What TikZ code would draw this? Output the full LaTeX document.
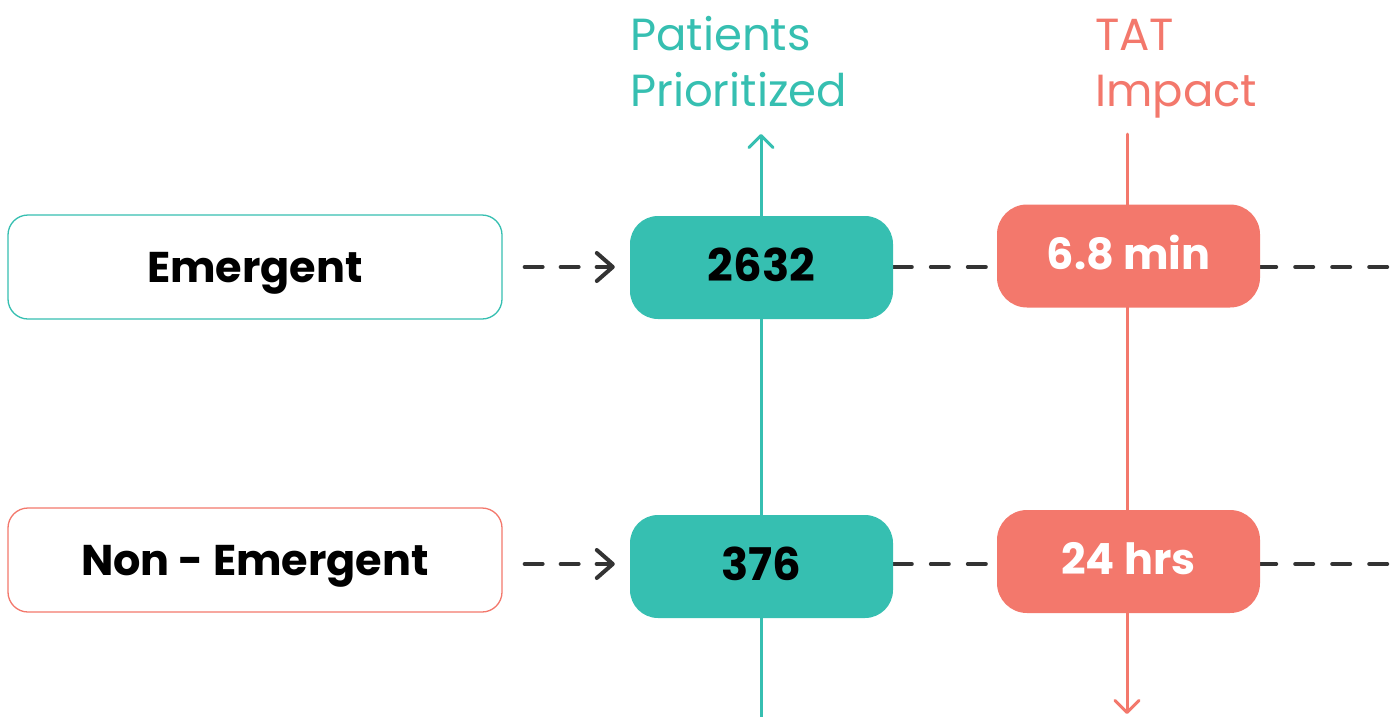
\documentclass[tikz,border=0pt]{standalone}
\usepackage{fontspec}
\setmainfont{Poppins}
\usetikzlibrary{arrows.meta,backgrounds,calc}
\definecolor{tealc}{HTML}{36BFB1}
\definecolor{salmonc}{HTML}{F3786C}
\definecolor{darkc}{HTML}{333333}
\tikzset{
  catbox/.style={draw, line width=1.3pt, rounded corners=20pt, minimum width=494pt, minimum height=104pt,
    inner sep=0pt, fill=white, text=black, font=\fontsize{43}{43}\selectfont\bfseries, text height=30pt, text depth=0pt},
  numbox/.style={fill=tealc, rounded corners=28pt, minimum width=263pt, minimum height=103pt,
    inner sep=0pt, text=black, font=\fontsize{45}{45}\selectfont\bfseries, text height=32pt, text depth=5pt},
  tatbox/.style={fill=salmonc, rounded corners=30pt, minimum width=263pt, minimum height=103pt,
    inner sep=0pt, text=white, font=\fontsize{43}{43}\selectfont\bfseries, text height=31pt, text depth=5pt},
  header/.style={anchor=base west, inner sep=0pt, align=left, font=\fontsize{45}{56}\selectfont},
  dasharrow/.style={draw=darkc, line width=4pt, line cap=round, dash pattern=on 18pt off 18pt,
    -{Straight Barb[length=16pt,width=28pt,line cap=round,line join=round]}},
  dashline/.style={draw=darkc, line width=4pt, line cap=round, dash pattern=on 18pt off 19pt},
  axisline/.style={line width=3pt, line cap=round,
    -{Straight Barb[length=12pt,width=24pt,line cap=round,line join=round]}},
}
\begin{document}
\begin{tikzpicture}[x=1pt,y=-1pt]
\useasboundingbox (0,0) rectangle (1398,716);
% headers (anchor at the baseline of the last line)
\node[header, text=tealc] (hp) at (630,106) {Patients\\Prioritized};
\node[header, text=salmonc] (ht) at (1095,106) {TAT\\Impact};
% boxes
\node[catbox, draw=tealc] (e1) at (255,267) {Emergent};
\node[catbox, draw=salmonc] (e2) at (255,560) {Non - Emergent};
\node[numbox] (a1) at (761.5,267.5) {2632};
\node[numbox] (a2) at (761.5,566.5) {376};
\node[tatbox] (b1) at (1128.5,256) {6.8 min};
\node[tatbox] (b2) at (1128.5,561.5) {24 hrs};
% coordinates for axis ends and free ends
\coordinate (ptop) at (761,134);
\coordinate (pbot) at (761,720);
\coordinate (ttop) at (1127,134);
\coordinate (tbot) at (1127,714);
\coordinate (r1) at (1398,267);
\coordinate (r2) at (1398,564);
\begin{scope}[on background layer]
  \draw[axisline, tealc] (pbot) -- (ptop);
  \draw[axisline, salmonc] (ttop) -- (tbot);
  % row 1
  \draw[dashline, dash phase=26pt] (b1.west |- r1) -- (a1.east |- r1);
  \draw[dashline, dash phase=2pt] (b1.east |- r1) -- (r1);
  % row 2
  \draw[dashline, dash phase=26pt] (b2.west |- r2) -- (a2.east |- r2);
  \draw[dashline, dash phase=2pt] (b2.east |- r2) -- (r2);
\end{scope}
\draw[dasharrow] ([xshift=22pt]e1.east |- r1) -- ([xshift=-15pt]a1.west |- r1);
\draw[dasharrow] ([xshift=22pt]e2.east |- r2) -- ([xshift=-15pt]a2.west |- r2);
\end{tikzpicture}
\end{document}
